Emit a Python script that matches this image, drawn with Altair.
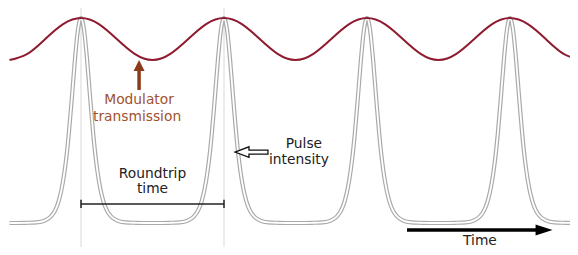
import altair as alt
import pandas as pd

# Time is measured in roundtrip periods, intensity / transmission normalised to the pulse peak.
pulse_centers = [0, 1, 2, 3]
pulse_offsets = [-0.5, -0.38, -0.31, -0.25, -0.21, -0.18, -0.155, -0.125, -0.105, -0.085,
                 -0.063, -0.042, -0.021, 0.0, 0.021, 0.042, 0.063, 0.085, 0.105, 0.125,
                 0.155, 0.18, 0.21, 0.25, 0.31, 0.38]
pulse_shape = [0.0, 0.001, 0.003, 0.013, 0.032, 0.063, 0.109, 0.206, 0.305, 0.438,
               0.619, 0.801, 0.944, 1.0, 0.944, 0.801, 0.619, 0.438, 0.305, 0.206,
               0.109, 0.063, 0.032, 0.013, 0.003, 0.001]
train_end_time = 3.48
train_end_value = 0.0

mod_times = [-0.5, -0.375, -0.25, -0.125, 0.0, 0.125, 0.25, 0.375, 0.5, 0.625, 0.75, 0.875,
             1.0, 1.125, 1.25, 1.375, 1.5, 1.625, 1.75, 1.875, 2.0, 2.125, 2.25, 2.375,
             2.5, 2.625, 2.75, 2.875, 3.0, 3.125, 3.25, 3.375, 3.5]
mod_values = [0.795, 0.825, 0.8975, 0.970, 1.0, 0.970, 0.8975, 0.825,
              0.795, 0.825, 0.8975, 0.970, 1.0, 0.970, 0.8975, 0.825,
              0.795, 0.825, 0.8975, 0.970, 1.0, 0.970, 0.8975, 0.825,
              0.795, 0.825, 0.8975, 0.970, 1.0, 0.970, 0.8975, 0.825, 0.795]

marker_times = [0, 1]

label_texts = ["Modulator", "transmission", "Pulse", "intensity", "Roundtrip", "time", "Time"]
label_times = [0.406, 0.392, 1.559, 1.524, 0.5, 0.5, 2.79]
label_values = [0.60, 0.517, 0.385, 0.307, 0.239, 0.166, -0.09]
label_colors = ["#a0522d", "#a0522d", "#222222", "#222222", "#222222", "#222222", "#222222"]

X_DOMAIN = [-0.5105, 3.41958]
Y_DOMAIN = [-0.11707, 1.0488]

rows = []
for c in pulse_centers:
    for o, v in zip(pulse_offsets, pulse_shape):
        rows.append({"t": c + o, "I": v})
rows.append({"t": train_end_time, "I": train_end_value})
pulse_df = pd.DataFrame(rows)
mod_df = pd.DataFrame({"t": mod_times, "I": mod_values})
marker_df = pd.DataFrame({"t": marker_times, "I": [Y_DOMAIN[1]] * 2, "I2": [Y_DOMAIN[0]] * 2})
label_df = pd.DataFrame({"text": label_texts, "t": label_times, "I": label_values, "c": label_colors})

xs = alt.Scale(domain=X_DOMAIN, nice=False, zero=False)
ys = alt.Scale(domain=Y_DOMAIN, nice=False, zero=False)
X = lambda f="t": alt.X(f"{f}:Q", scale=xs, axis=None)
Y = lambda f="I": alt.Y(f"{f}:Q", scale=ys, axis=None)

markers = alt.Chart(marker_df).mark_rule(color="#d9d9d9", strokeWidth=1).encode(
    x=X(), y=Y(), y2="I2:Q")

pulse_outer = alt.Chart(pulse_df).mark_line(
    color="#aaaaaa", strokeWidth=4.2, interpolate="monotone", clip=True).encode(
    x=X(), y=Y(), order="t:Q")
pulse_inner = alt.Chart(pulse_df).mark_line(
    color="#ffffff", strokeWidth=1.8, interpolate="monotone", clip=True).encode(
    x=X(), y=Y(), order="t:Q")

modulator = alt.Chart(mod_df).mark_line(
    color="#8e1b2f", strokeWidth=2, interpolate="natural", clip=True).encode(
    x=X(), y=Y(), order="t:Q")

# Roundtrip bar
rt_df = pd.DataFrame({"t": [0.0], "t2": [1.0], "I": [0.0927]})
rt_bar = alt.Chart(rt_df).mark_rule(color="#222222", strokeWidth=1.5).encode(
    x=X(), x2="t2:Q", y=Y())
cap_df = pd.DataFrame({"t": [0.0, 1.0], "I": [0.073, 0.073], "I2": [0.113, 0.113]})
rt_caps = alt.Chart(cap_df).mark_rule(color="#222222", strokeWidth=1.5).encode(
    x=X(), y=Y(), y2="I2:Q")

# Modulator arrow
mod_shaft_df = pd.DataFrame({"t": [0.406], "I": [0.649], "I2": [0.75]})
mod_shaft = alt.Chart(mod_shaft_df).mark_rule(color="#8b3a1a", strokeWidth=3.5).encode(
    x=X(), y=Y(), y2="I2:Q")
mod_head_df = pd.DataFrame({"t": [0.406], "I": [0.768]})
mod_head = alt.Chart(mod_head_df).mark_point(
    shape="M-1,1L0,-1L1,1Z", size=121, filled=True, color="#8b3a1a", opacity=1).encode(
    x=X(), y=Y())

# Hollow pulse arrow
hollow_df = pd.DataFrame({"t": [1.192], "I": [0.346]})
hollow = alt.Chart(hollow_df).mark_point(
    shape="M-1,0L-0.15,-0.32L-0.15,-0.12L1,-0.12L1,0.12L-0.15,0.12L-0.15,0.32Z",
    size=1089, filled=True, fill="#ffffff", stroke="#111111", strokeWidth=1.3, opacity=1).encode(
    x=X(), y=Y())

# Time arrow
time_shaft_df = pd.DataFrame({"t": [2.2797], "t2": [3.19], "I": [-0.0341]})
time_shaft = alt.Chart(time_shaft_df).mark_rule(color="#000000", strokeWidth=3.5).encode(
    x=X(), x2="t2:Q", y=Y())
time_head_df = pd.DataFrame({"t": [3.238], "I": [-0.0341]})
time_head = alt.Chart(time_head_df).mark_point(
    shape="M-1,-0.65L1,0L-1,0.65Z", size=289, filled=True, color="#000000", opacity=1).encode(
    x=X(), y=Y())

labels = alt.Chart(label_df).mark_text(
    font="DejaVu Sans", fontSize=13.8, align="center", baseline="middle").encode(
    x=X(), y=Y(), text="text:N", color=alt.Color("c:N", scale=None))

chart = alt.layer(
    markers, pulse_outer, pulse_inner, modulator, rt_bar, rt_caps,
    mod_shaft, mod_head, hollow, time_shaft, time_head, labels
).properties(
    width=562, height=239, padding=0, autosize="none", background="white"
).configure_view(stroke=None)

chart.save("out.html", embed_options={"renderer": "svg", "actions": False})
